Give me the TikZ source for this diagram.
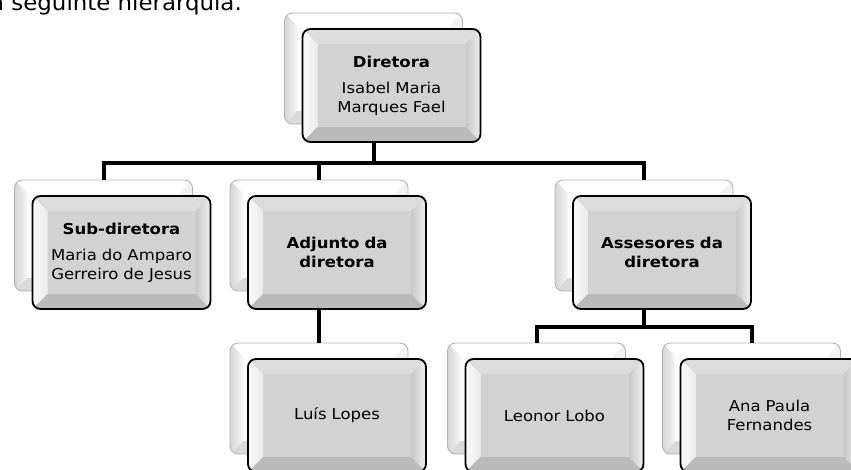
\documentclass[tikz,border=0pt]{standalone}
\usepackage{fontspec}
\newfontfamily\boxfont[FakeStretch=1.1]{DejaVu Sans}
\newfontfamily\topfont[FakeStretch=1.04]{DejaVu Sans}
\usetikzlibrary{calc}
\definecolor{fInner}{HTML}{D2D2D2}
\definecolor{fTop}{HTML}{DEDEDE}
\definecolor{fLeft}{HTML}{EEEEEE}
\definecolor{fRightA}{HTML}{C6C6C6}
\definecolor{fRightB}{HTML}{F4F4F4}
\definecolor{fBottom}{HTML}{B8B8B8}
\definecolor{bInner}{HTML}{FBFBFB}
\definecolor{bTop}{HTML}{FFFFFF}
\definecolor{bLeftA}{HTML}{F6F6F6}
\definecolor{bLeftB}{HTML}{D6D6D6}
\definecolor{bRight}{HTML}{F2F2F2}
\definecolor{bBottom}{HTML}{DADADA}
\definecolor{bRim}{HTML}{B4B4B4}
% bevel: #1 top, #2 left, #3 right, #4 bottom, #5 inner, #6 width
\newcommand\bevelfill[6]{%
  \begin{scope}[sharp corners]
  \path (path picture bounding box.north west) coordinate (bvNW)
        (path picture bounding box.north east) coordinate (bvNE)
        (path picture bounding box.south west) coordinate (bvSW)
        (path picture bounding box.south east) coordinate (bvSE);
  \path (bvNW) ++(#6,-#6) coordinate (bvnw)
        (bvNE) ++(-#6,-#6) coordinate (bvne)
        (bvSW) ++(#6,#6) coordinate (bvsw)
        (bvSE) ++(-#6,#6) coordinate (bvse);
  \path[#1] (bvNW) -- (bvNE) -- (bvne) -- (bvnw) -- cycle;
  \path[#2] (bvNW) -- (bvnw) -- (bvsw) -- (bvSW) -- cycle;
  \path[#3] (bvNE) -- (bvSE) -- (bvse) -- (bvne) -- cycle;
  \path[#4] (bvSW) -- (bvsw) -- (bvse) -- (bvSE) -- cycle;
  \path[#5] (bvnw) rectangle (bvse);
  \end{scope}}
\tikzset{
  backbox/.style={rounded corners=8pt, draw=bRim, line width=0.9pt,
    fill=white, minimum width=178pt, minimum height=111pt, inner sep=0pt,
    path picture={\bevelfill{fill=bTop}{left color=bLeftB, right color=bLeftA}
      {fill=bRight}{fill=bBottom}{fill=bInner}{13pt}}},
  frontbox/.style={rounded corners=8pt, draw=black, line width=1.8pt,
    fill=fInner, minimum width=178pt, minimum height=113pt, inner sep=2pt,
    align=center, text width=170pt,
    font=\boxfont\fontsize{15}{19}\selectfont,
    path picture={\bevelfill{fill=fTop,fill opacity=0.9}{left color=white, right color=fLeft,fill opacity=0.9}
      {left color=fRightA, right color=fRightB,fill opacity=0.9}{fill=fBottom,fill opacity=0.9}{fill=fInner,fill opacity=0.9}{15pt}}},
  conn/.style={line width=4pt, black},
  toptext/.style={anchor=base west, inner sep=0pt,
    font=\topfont\fontsize{22}{26}\selectfont}
}
\begin{document}
\begin{tikzpicture}[x=1pt,y=-1pt]
\useasboundingbox (0,0) rectangle (851,469);
\node[toptext] (intro) at (-10,10) {a seguinte hierarquia.};
% back boxes
\node[backbox] (Db)  at (373.5,68.5) {};
\node[backbox] (Sb)  at (103.5,235.5) {};
\node[backbox] (Ab)  at (319,235.5) {};
\node[backbox] (Asb) at (644,235.5) {};
\node[backbox] (Lb)  at (319,398.5) {};
\node[backbox] (Leb) at (536.5,398.5) {};
\node[backbox] (Anb) at (751.5,398.5) {};
% connectors
\coordinate (bar1) at (0,163);
\coordinate (bar2) at (0,327);
\draw[conn] (Sb.north) -- (Sb.north |- bar1) -- (Asb.north |- bar1) -- (Asb.north);
\draw[conn] (Db.south) -- (Db.south |- bar1);
\draw[conn] (Ab.north) -- (Ab.north |- bar1);
\draw[conn] (Ab.south) -- (Lb.north);
\draw[conn] (Leb.north) -- (Leb.north |- bar2) -- (Anb.north |- bar2) -- (Anb.north);
\draw[conn] (Asb.south) -- (Asb.south |- bar2);
% front boxes
\node[frontbox] (D)  at ($(Db)+(18pt,-17pt)$) {{\bfseries Diretora}\\[7pt]Isabel Maria\\Marques Fael};
\node[frontbox] (S)  at ($(Sb)+(18pt,-17pt)$) {{\bfseries Sub-diretora}\\[7pt]Maria do Amparo\\Gerreiro de Jesus};
\node[frontbox] (A)  at ($(Ab)+(18pt,-17pt)$) {\bfseries Adjunto da\\\bfseries diretora};
\node[frontbox] (As) at ($(Asb)+(18pt,-17pt)$) {\bfseries Assesores da\\\bfseries diretora};
\node[frontbox] (L)  at ($(Lb)+(18pt,-17pt)$) {Luís Lopes};
\node[frontbox] (Le) at ($(Leb)+(18pt,-17pt)$) {Leonor Lobo};
\node[frontbox] (An) at ($(Anb)+(18pt,-17pt)$) {Ana Paula\\Fernandes};
\end{tikzpicture}
\end{document}
